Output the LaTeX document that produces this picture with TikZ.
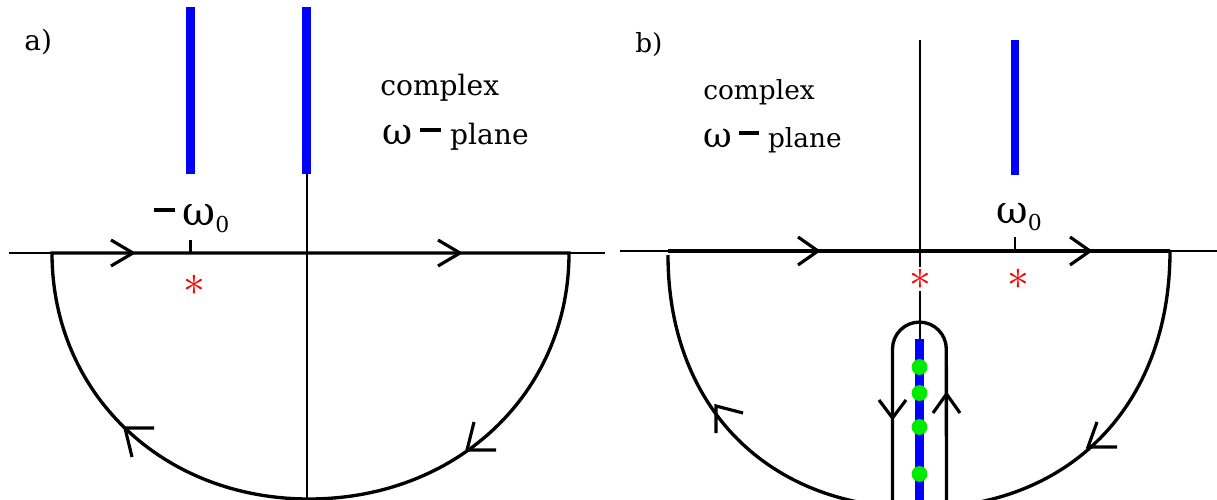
\documentclass[tikz,border=0pt]{standalone}
\usepackage{fontspec}
\setmainfont{DejaVu Serif}
\definecolor{dotgreen}{RGB}{0,235,0}
\definecolor{cutblue}{RGB}{0,0,255}
\newcommand\mn{\raisebox{7.2pt}{\rule{11.5pt}{2.7pt}}}
\newcommand\subzero{\raisebox{-4pt}{\fontsize{12.5}{12.5}\selectfont 0}}
\newcommand\bigw[1]{{\fontsize{#1}{#1}\selectfont ω}}
\begin{document}
\begin{tikzpicture}[x=0.02cm,y=-0.02cm,
  axisline/.style={line width=0.6pt},
  pathline/.style={line width=1.9pt},
  chevron/.style={line width=1.8pt, line join=miter},
  cutline/.style={cutblue, line width=5.1pt},
  tickline/.style={line width=1.6pt},
  lbl/.style={anchor=base west, inner sep=0pt, font=\fontsize{16}{19}\selectfont},
  lblb/.style={lbl, font=\fontsize{15}{18}\selectfont},
  polestar/.style={text=red, fill=white, inner sep=1.2pt, font=\fontsize{27}{27}\selectfont},
  greendot/.style={circle, fill=dotgreen, draw=none, inner sep=0pt, minimum size=9pt}
]
\useasboundingbox (0,0) rectangle (1217,500);
\clip (0,0) rectangle (1217,500);

% ---------------- panel a ----------------
\draw[axisline] (9,253) -- (605,253);
\draw[axisline] (307,7) -- (307,505);
\draw[cutline] (190.5,7) -- (190.5,174);
\draw[cutline] (306.7,7) -- (306.7,174);
\draw[pathline] (52,253) -- (569,253)
  .. controls (569,393) and (457,499) .. (309,499)
  .. controls (162,499) and (52,393) .. cycle;
\draw[chevron] (111,240) -- (133,253) -- (111,266);
\draw[chevron] (438,240) -- (460,253) -- (438,266);
\draw[chevron] (154,428) -- (125,428) -- (132,457);
\draw[chevron] (496,450) -- (467,450) -- (474,422);
\draw[tickline] (190.7,240) -- (190.7,253);
\node[polestar] (sa) at (194,285) {$\ast$};
\node[lbl] (la) at (24,51) {a)};
\node[lbl] (ca) at (380,95) {complex};
\node[lbl] (pa) at (382,145) {\bigw{21}\hspace{4.5pt}\mn\hspace{5.5pt}plane};
\node[lbl] (wa) at (154,225) {\mn\hspace{4.5pt}\bigw{23}\subzero};

% ---------------- panel b ----------------
\draw[axisline] (620,251) -- (1217,251);
\draw[axisline] (920,40) -- (920,505);
\draw[cutline] (1015,40) -- (1015,175);
\draw[cutline, line width=4.7pt] (919.5,339) -- (919.5,505);
\draw[pathline] (668,251) -- (1170,251);
\draw[pathline] (668,255) .. controls (668,407) and (768,508) .. (919,508);
\draw[pathline] (1170,251) .. controls (1170,405) and (1070,508) .. (919,508);
\draw[pathline] (892.5,510) -- (892.5,349)
  arc[start angle=180, end angle=0, radius=15.31pt] -- (946.5,510);
\draw[chevron] (798,237) -- (818,251) -- (798,265);
\draw[chevron] (1070,237) -- (1090,251) -- (1070,265);
\draw[chevron] (743,413) -- (716,406) -- (716,433);
\draw[chevron] (1117,447) -- (1088,447) -- (1097,422);
\draw[chevron] (879,400) -- (892.5,418) -- (906,400);
\draw[chevron] (933,413) -- (946.5,394) -- (960,413);
\draw[tickline] (1015,237) -- (1015,251);
\node[polestar] (sb1) at (920,279) {$\ast$};
\node[polestar] (sb2) at (1018,279) {$\ast$};
\node[greendot] (g1) at (919.5,367) {};
\node[greendot] (g2) at (919.5,393) {};
\node[greendot] (g3) at (919.5,427) {};
\node[greendot] (g4) at (919.5,474) {};
\node[lblb] (lb) at (635,53) {b)};
\node[lblb] (cb) at (703,100) {complex};
\node[lblb] (pb) at (703,148) {\bigw{20}\hspace{4pt}\mn\hspace{5pt}plane};
\node[lblb] (wb) at (996,223) {\bigw{22}\subzero};
\end{tikzpicture}
\end{document}
